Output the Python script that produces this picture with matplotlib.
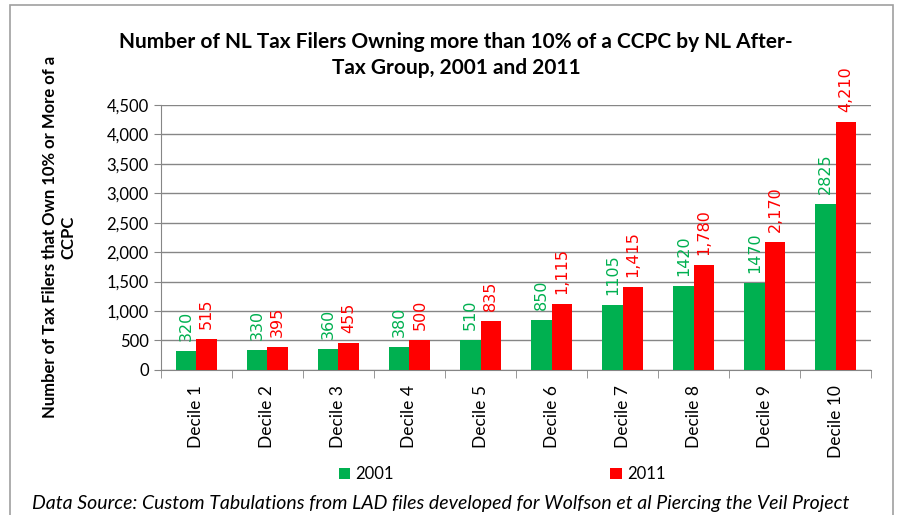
import matplotlib.pyplot as plt
import numpy as np
from matplotlib.patches import Rectangle

# Data
categories = ['Decile 1', 'Decile 2', 'Decile 3', 'Decile 4', 'Decile 5',
              'Decile 6', 'Decile 7', 'Decile 8', 'Decile 9', 'Decile 10']
vals_2001 = [320, 330, 360, 380, 510, 850, 1105, 1420, 1470, 2825]
vals_2011 = [515, 395, 455, 500, 835, 1115, 1415, 1780, 2170, 4210]
labels_2001 = ['320', '330', '360', '380', '510', '850', '1105', '1420', '1470', '2825']
labels_2011 = ['515', '395', '455', '500', '835', '1,115', '1,415', '1,780', '2,170', '4,210']

green = '#00B050'
red = '#FF0000'
font = 'Lato'

fig = plt.figure(figsize=(9.03, 5.15), dpi=100)
ax = fig.add_axes([0.178, 0.282, 0.787, 0.514])

x = np.arange(len(categories))
w = 0.29
b1 = ax.bar(x - w / 2, vals_2001, w, color=green, label='2001', zorder=3)
b2 = ax.bar(x + w / 2, vals_2011, w, color=red, label='2011', zorder=3)

# data labels
for bars, labs, col in [(b1, labels_2001, green), (b2, labels_2011, red)]:
    for bar, lab in zip(bars, labs):
        ax.text(bar.get_x() + bar.get_width() / 2, bar.get_height() + 170, lab,
                rotation=90, ha='center', va='bottom', color=col,
                fontsize=11.5, family='DejaVu Sans', zorder=4)

ax.set_xlim(-0.5, len(categories) - 0.5)
ax.set_ylim(0, 4500)
ax.set_yticks(range(0, 4501, 500))
ax.set_yticklabels([f'{v:,}' for v in range(0, 4501, 500)], family=font, fontsize=12)
ax.set_xticks(x)
ax.set_xticklabels(categories, rotation=90, family=font, fontsize=12.5)
ax.tick_params(axis='x', length=0, pad=11)
ax.set_xticks(np.arange(-0.5, len(categories), 1), minor=True)
ax.tick_params(axis='x', which='minor', length=6, color='#868686')
ax.tick_params(axis='y', length=5, color='#868686')
ax.grid(axis='y', color='#868686', linewidth=1, zorder=0)
for s in ['top', 'right']:
    ax.spines[s].set_visible(False)
ax.spines['left'].set_color('#868686')
ax.spines['bottom'].set_color('#868686')

ax.set_ylabel('Number of Tax Filers that Own 10% or More of a\nCCPC',
              family=font, fontweight='bold', fontsize=12, labelpad=22)

fig.text(0.505, 0.893, 'Number of NL Tax Filers Owning more than 10% of a CCPC by NL After-\nTax Group, 2001 and 2011',
         ha='center', va='center', family=font, fontweight='bold', fontsize=15,
         linespacing=1.35)

leg = fig.legend(handles=[b1, b2], loc='center', bbox_to_anchor=(0.556, 0.079),
                 ncol=2, frameon=False, prop={'family': font, 'size': 12},
                 handlelength=0.7, handleheight=0.7, columnspacing=13, handletextpad=0.3)

fig.text(0.035, 0.022, 'Data Source: Custom Tabulations from LAD files developed for Wolfson et al Piercing the Veil Project',
         family=font, style='italic', fontsize=14, va='center')

fig.patches.append(Rectangle((0.011, -0.1), 0.978, 1.09, transform=fig.transFigure,
                             fill=False, edgecolor='#A0A0A0', linewidth=1.2))

fig.savefig('out.png', dpi=100)
